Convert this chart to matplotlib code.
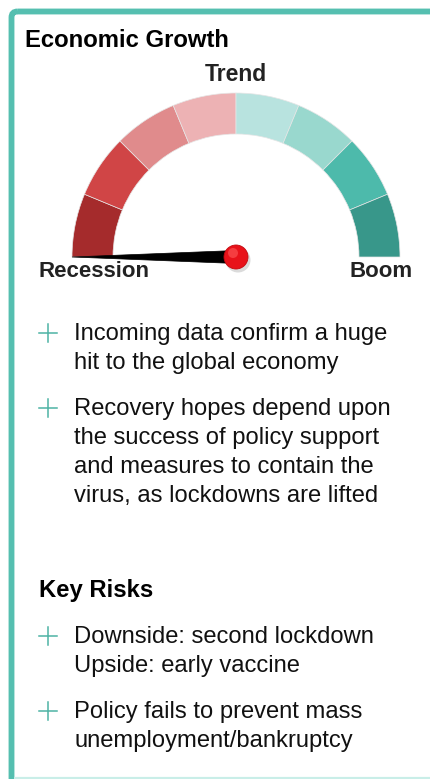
import numpy as np
import matplotlib
matplotlib.use('Agg')
from matplotlib import pyplot as plt
from matplotlib.patches import Wedge, Circle, Polygon, FancyBboxPatch

# data
title = 'Economic Growth'
gauge_labels = ['Recession', 'Trend', 'Boom']
segment_colors = ['#A52B2C', '#D04546', '#E08B8C', '#EDB2B4',
                  '#B8E3DF', '#99D8CE', '#4DBAAB', '#38978A']
needle_value = 0.0   # 0 = recession, 100 = boom
growth_bullets = [['Incoming data confirm a huge', 'hit to the global economy'],
                  ['Recovery hopes depend upon', 'the success of policy support',
                   'and measures to contain the', 'virus, as lockdowns are lifted']]
risk_title = 'Key Risks'
risk_bullets = [['Downside: second lockdown', 'Upside: early vaccine'],
                ['Policy fails to prevent mass', 'unemployment/bankruptcy']]

teal = '#55BFB0'
plt.rcParams['font.family'] = ['Liberation Sans', 'DejaVu Sans']

fig = plt.figure(figsize=(4.3, 7.79), dpi=100)
ax = fig.add_axes([0, 0, 1, 1])
ax.set_xlim(0, 430)
ax.set_ylim(779, 0)
ax.axis('off')

# frame
ax.add_patch(FancyBboxPatch((11.5, 11.5), 440, 800, boxstyle='round,pad=0,rounding_size=6',
                            fc='none', ec=teal, lw=4.2))
ax.plot([14, 430], [778, 778], color='#C9EEE8', lw=1.6, solid_capstyle='butt')

ax.text(25, 40, title, fontsize=17.2, fontweight='bold', va='center', ha='left')

# gauge
cx, cy = 236, 257
r_out, r_in = 164, 123
n = len(segment_colors)
step = 180 / n
for i, c in enumerate(segment_colors):
    ax.add_patch(Wedge((cx, cy), r_out, 180 + step * i, 180 + step * (i + 1),
                       width=r_out - r_in, fc=c, ec='#E6E6E6', lw=0.5))

ax.text(cx, 74, gauge_labels[1], fontsize=16.5, fontweight='bold', ha='center', va='center',
        color='#222222')
ax.text(38, 271, gauge_labels[0], fontsize=16, fontweight='bold', ha='left', va='center',
        color='#222222')
ax.text(413, 271, gauge_labels[2], fontsize=16, fontweight='bold', ha='right', va='center',
        color='#222222')

# needle
ang = np.radians(180 - needle_value / 100 * 180)
tip = (cx + r_out * np.cos(ang), cy - r_out * np.sin(ang))
px, py = np.sin(ang), np.cos(ang)
hw = 6.5
ax.add_patch(Polygon([tip, (cx + hw * px, cy + hw * py), (cx - hw * px, cy - hw * py)],
                     closed=True, fc='black', ec='black', lw=0.5, zorder=5))
ax.add_patch(Circle((cx + 2, cy + 3), 12.5, fc='#999999', alpha=0.35, ec='none', zorder=6))
ax.add_patch(Circle((cx, cy), 12, fc='#E8121A', ec='#C40A10', lw=0.6, zorder=7))
ax.add_patch(Circle((cx - 3, cy - 4), 5, fc='#FF5A5A', ec='none', alpha=0.6, zorder=8))


def draw_bullets(groups, y0, line_gap=29, group_gap=46):
    y = y0
    for lines in groups:
        ax.plot([39, 57], [y - 7.5, y - 7.5], color='#4DB3A4', lw=1.1)
        ax.plot([48, 48], [y - 16.5, y + 1.5], color='#4DB3A4', lw=1.1)
        for k, line in enumerate(lines):
            ax.text(74, y + k * line_gap, line, fontsize=17.1, ha='left', va='baseline',
                    color='#111111')
        y += (len(lines) - 1) * line_gap + group_gap
    return y


draw_bullets(growth_bullets, 340)
ax.text(39, 590, risk_title, fontsize=17.2, fontweight='bold', ha='left', va='center')
draw_bullets(risk_bullets, 643)

fig.savefig('out.png', dpi=100)
